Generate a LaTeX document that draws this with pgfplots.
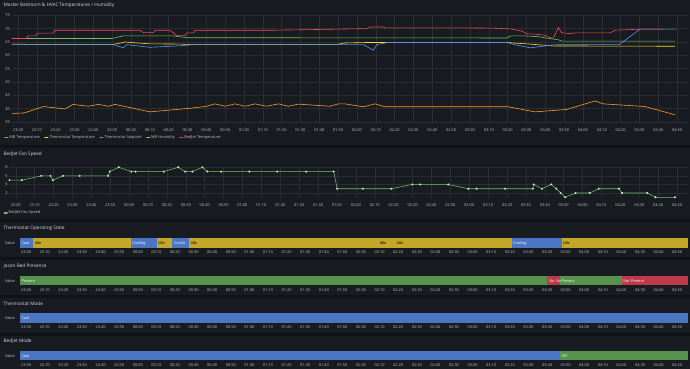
\documentclass[border=0pt]{standalone}
\usepackage{fontspec}
\setmainfont{Open Sans}
\usepackage{pgfplots}
\pgfplotsset{compat=1.18}

\definecolor{pagebg}{HTML}{111217}
\definecolor{panelbg}{HTML}{181B1F}
\definecolor{gridc}{HTML}{2A2D33}
\definecolor{tickc}{HTML}{BEC0C7}
\definecolor{titlec}{HTML}{D8D9DF}
\definecolor{cgreen}{HTML}{73BF69}
\definecolor{cyellow}{HTML}{FADE2A}
\definecolor{cblue}{HTML}{5794F2}
\definecolor{corange}{HTML}{FF9830}
\definecolor{cred}{HTML}{F2495C}
\definecolor{sblue}{HTML}{4A76C4}
\definecolor{syellow}{HTML}{C2A728}
\definecolor{sgreen}{HTML}{57924F}
\definecolor{sred}{HTML}{BE3A4B}
\definecolor{ptfill}{HTML}{D3E8CF}

\newcommand\tickfont{\fontsize{3.9}{4.3}\selectfont}
\newcommand\titlefont{\fontsize{4.7}{5.5}\selectfont}
\newcommand\segfont{\fontsize{3.8}{4.2}\selectfont}

\pgfplotsset{
 timeticks/.style={xtick={0,10,...,350},
  xticklabels={23:00,23:10,23:20,23:30,23:40,23:50,00:00,00:10,00:20,00:30,00:40,00:50,01:00,01:10,01:20,01:30,01:40,01:50,02:00,02:10,02:20,02:30,02:40,02:50,03:00,03:10,03:20,03:30,03:40,03:50,04:00,04:10,04:20,04:30,04:40,04:50}},
 base/.style={scale only axis, xmin=-3.3, xmax=355.8,
  axis line style={draw=none}, major tick length=0pt, tick style={draw=none},
  ticklabel style={font=\tickfont, text=tickc, inner sep=0pt},
  /pgf/number format/assume math mode=true, timeticks},
 graph/.style={base, grid=major, major grid style={gridc, line width=0.4pt},
  xticklabel style={anchor=north, yshift=-6.4pt},
  yticklabel style={anchor=east, xshift=-1.8pt}, clip=false},
 state/.style={base, ymin=0, ymax=1, width=668pt, height=9.5pt,
  ytick={0.5}, yticklabels={Value},
  xticklabel style={anchor=north, yshift=-2.8pt},
  yticklabel style={anchor=east, xshift=-5pt}},
}
\tikzset{seglabel/.style={anchor=west, font=\segfont, inner sep=0pt, xshift=1.3pt, text=white}}
\newcommand\seg[3]{\addplot[fill=#1, draw=none, forget plot] coordinates {(#2,1) (#3,1)} \closedcycle;}

\begin{document}
\begin{tikzpicture}
\useasboundingbox (0pt,0pt) rectangle (690pt,369pt);
\fill[pagebg] (0pt,0pt) rectangle (690pt,369pt);
\fill[panelbg] (0pt,223.5pt) rectangle (690pt,369pt);
\fill[panelbg] (0pt,149.5pt) rectangle (690pt,221pt);
\fill[panelbg] (0pt,111.5pt) rectangle (690pt,146.5pt);
\fill[panelbg] (0pt,73.5pt) rectangle (690pt,109pt);
\fill[panelbg] (0pt,35.5pt) rectangle (690pt,71pt);
\fill[panelbg] (0pt,0pt) rectangle (690pt,33pt);

\node[anchor=west, inner sep=0pt, font=\titlefont, text=titlec] at (3.5pt,363.8pt) {Master Bedroom \& HVAC Temperatures / Humidity};
\node[anchor=west, inner sep=0pt, font=\titlefont, text=titlec] at (3.5pt,214.7pt) {BedJet Fan Speed};
\node[anchor=west, inner sep=0pt, font=\titlefont, text=titlec] at (3.5pt,140.3pt) {Thermostat Operating State};
\node[anchor=west, inner sep=0pt, font=\titlefont, text=titlec] at (3.5pt,103pt) {Jason Bed Presence};
\node[anchor=west, inner sep=0pt, font=\titlefont, text=titlec] at (3.5pt,65.7pt) {Thermostat Mode};
\node[anchor=west, inner sep=0pt, font=\titlefont, text=titlec] at (3.5pt,28.3pt) {BedJet Mode};

% Temperatures / humidity
\begin{axis}[graph, at={(11.8pt,247pt)}, anchor=south west, width=676.2pt, height=106.7pt,
  ymin=35, ymax=75, ytick={35,40,...,75},
  legend columns=5,
  legend style={at={(-0.011,-0.147)}, anchor=west, draw=none, fill=none, font=\tickfont,
    text=tickc, inner sep=0pt, outer sep=0pt, nodes={inner sep=0.9pt},
    /tikz/every even column/.append style={column sep=3.6pt}},
  legend image code/.code={\draw[#1, line width=1.3pt, line cap=round] (0.6pt,0pt) -- (3.4pt,0pt);}]
\addplot[cgreen, line width=0.6pt] coordinates {
(-3.3,66.3)(49.7,66.3)(56,67.3)(82.5,67.3)(89.6,66.6)(259.5,66.5)(262,67.3)(269.2,67.3)(276,67.0)(287,65.8)(289,65.3)(349,65.3)};
\addlegendentry{MB Temperature}
\addplot[cyellow, line width=0.6pt] coordinates {
(-3.3,64.2)(2,64.2)(4,64.0)(50,64.0)(53,64.4)(57,65.0)(60,64.8)(70,64.3)(87,64.2)(92,64.0)(169.2,64.0)(172.8,64.6)(185,64.8)(197.6,64.8)(259.5,64.8)(270,64.3)(285,63.5)(349,63.4)};
\addlegendentry{Thermostat Temperature}
\addplot[cblue, line width=0.6pt] coordinates {
(-3.3,64.0)(50.6,64.0)(56,62.8)(57.7,64.0)(70,63.0)(87,63.6)(92,64.0)(183.4,64.0)(188.7,61.9)(190.5,64.0)(196,64.8)(259.5,64.8)(265,63.8)(272,62.8)(284,63.9)(289.6,64.0)(319.2,64.0)(330.3,69.8)(349.8,69.8)};
\addlegendentry{Thermostat Setpoint}
\addplot[corange, line width=0.6pt] coordinates {
(-3.3,38.2)(3.4,38.4)(13.5,40.8)(24.9,39.9)(29.3,41.6)(37.3,40.9)(42.7,41.6)(48.2,40.9)(51.5,41.6)(70.1,38.8)(92.2,40.2)(100.2,40.9)(104.6,41.8)(110,40.9)(115.2,41.8)(120.6,40.9)(125.9,41.8)(132,40.9)(138.3,41.8)(143.6,40.9)(148.9,41.7)(165.7,40.9)(170.1,41.8)(173.7,41.8)(183.4,40.7)(189.6,41.8)(194.9,40.7)(260.4,40.7)(274.5,38.8)(291.3,39.7)(306.4,42.9)(310.8,41.8)(332.9,40.8)(348.9,37.7)};
\addlegendentry{MB Humidity}
\addplot[cred, line width=0.6pt] coordinates {
(-3.3,66.3)(4.4,66.3)(5.5,67.3)(9.3,67.3)(10.5,68.3)(18.5,68.3)(19.6,69.4)(64.8,69.4)(66.6,68.5)(71.9,68.5)(72.8,69.4)(80.7,69.4)(84.3,67.4)(88.7,67.4)(89.6,68.4)(93.1,68.4)(94,69.4)(135.6,69.4)(185,70.0)(187,70.6)(194,70.6)(195,70.3)(234.7,70.3)(252,70.2)(261.3,69.9)(267.5,69.1)(270.1,68.1)(275.5,67.9)(279.9,67.5)(282.5,66.6)(284.3,66.5)(287,70.4)(288.7,68.5)(293.1,68.1)(295.8,68.4)(314.4,68.4)(317,69.4)(330.3,69.8)(342.7,69.8)};
\addlegendentry{BedJet Temperature}
\end{axis}

% Fan speed
\begin{axis}[graph, at={(9.5pt,171.7pt)}, anchor=south west, width=678.5pt, height=30pt,
  ymin=1, ymax=8, ytick={2,4,6,8},
  legend style={at={(-0.0085,-0.523)}, anchor=west, draw=none, fill=none, font=\tickfont,
    text=tickc, inner sep=0pt, outer sep=0pt, nodes={inner sep=0.9pt}},
  legend image code/.code={\draw[cgreen, line width=1.3pt, line cap=round] (0.6pt,0pt) -- (3.4pt,0pt);}]
\addplot[cgreen, line width=0.55pt, mark=*, mark size=0.7pt, mark options={fill=ptfill, draw=ptfill}] coordinates {
(-3.3,5)(3.2,5)(13.5,6)(18.4,6)(19.6,5)(25,6)(33.8,6)(48.9,6)(49.8,7)(54.5,8)(61.2,7)(63.4,7)(78.4,7)(86,8)(89.6,7)(93.5,7)(98.8,8)(101.4,7)(108.7,7)(123.6,7)(138.4,7)(153.7,7)(168.3,7)(170.1,3)(183.7,3)(198.8,3)(209.9,4)(214,4)(228.9,4)(239.5,3)(243.9,3)(259,3)(273.7,3)(274.2,4)(278.5,3)(283.4,4)(286.1,3)(288.4,2)(290.8,1)(296.3,2)(303.8,2)(308.5,3)(319.2,3)(320.9,2)(334.2,2)(338.6,1)(348.9,1)};
\addlegendentry{BedJet Fan Speed}
\end{axis}

% Thermostat operating state
\begin{axis}[state, at={(20pt,121pt)}, anchor=south west]
\seg{sblue}{-3.3}{3.85}
\seg{syellow}{3.85}{56.2}
\seg{sblue}{56.2}{70.2}
\seg{syellow}{70.2}{78.6}
\seg{sblue}{78.6}{87.6}
\seg{syellow}{87.6}{189.3}
\seg{syellow}{189.3}{198.3}
\seg{syellow}{198.3}{261.0}
\seg{sblue}{261.0}{288.0}
\seg{syellow}{288.0}{355.8}
\node[seglabel] at (axis cs:-3.3,0.5) {Cool};
\node[seglabel, text=black] at (axis cs:3.85,0.5) {Idle};
\node[seglabel] at (axis cs:56.2,0.5) {Cooling};
\node[seglabel, text=black] at (axis cs:70.2,0.5) {Idle};
\node[seglabel] at (axis cs:78.6,0.5) {Coolin};
\node[seglabel, text=black] at (axis cs:87.6,0.5) {Idle};
\node[seglabel, text=black] at (axis cs:189.3,0.5) {Idle};
\node[seglabel, text=black] at (axis cs:198.3,0.5) {Idle};
\node[seglabel] at (axis cs:261.0,0.5) {Cooling};
\node[seglabel, text=black] at (axis cs:288.0,0.5) {Idle};
\end{axis}

% Jason bed presence
\begin{axis}[state, at={(20pt,83.5pt)}, anchor=south west]
\seg{sgreen}{-3.3}{280.2}
\seg{sred}{280.2}{284.0}
\seg{sred}{284.0}{287.0}
\seg{sgreen}{287.0}{320.2}
\seg{sred}{320.2}{355.8}
\node[seglabel] at (axis cs:-3.3,0.5) {Present};
\node[seglabel, xshift=0.4pt] at (axis cs:280.2,0.5) {No};
\node[seglabel, xshift=0.4pt] at (axis cs:284.0,0.5) {No};
\node[seglabel] at (axis cs:287.0,0.5) {Present};
\node[seglabel] at (axis cs:320.2,0.5) {Not Present};
\end{axis}

% Thermostat mode
\begin{axis}[state, at={(20pt,46pt)}, anchor=south west]
\seg{sblue}{-3.3}{355.8}
\node[seglabel] at (axis cs:-3.3,0.5) {Cool};
\end{axis}

% BedJet mode
\begin{axis}[state, at={(20pt,8.5pt)}, anchor=south west]
\seg{sblue}{-3.3}{287.0}
\seg{sgreen}{287.0}{355.8}
\node[seglabel] at (axis cs:-3.3,0.5) {Cool};
\node[seglabel] at (axis cs:287.0,0.5) {Off};
\end{axis}
\end{tikzpicture}
\end{document}
